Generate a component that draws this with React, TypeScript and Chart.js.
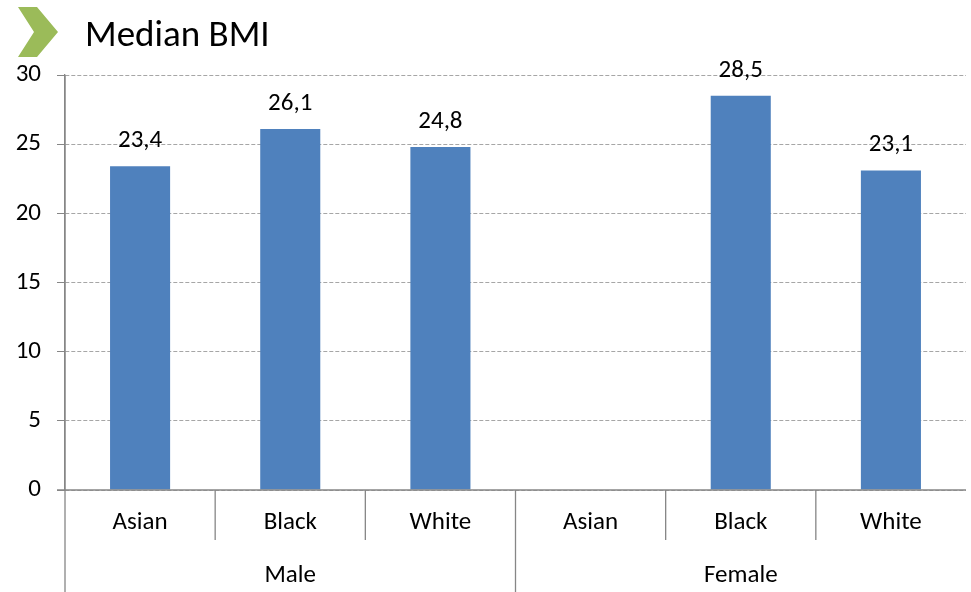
import React, { useEffect, useRef } from "react";
import { Chart, registerables } from "chart.js";

Chart.register(...registerables);

const title = "Median BMI";
const groups = ["Male", "Female"];
const subCategories = ["Asian", "Black", "White"];
const categoryLabels = ["Asian", "Black", "White", "Asian", "Black", "White"];
const values: (number | null)[] = [23.4, 26.1, 24.8, null, 28.5, 23.1];
const yMin = 0;
const yMax = 30;
const yStep = 5;

const FONT = "Carlito, Calibri, Lato, sans-serif";
const BAR = "#4F81BD";
const AXIS = "#868686";
const GRID = "#A6A6A6";

const fmt = (v: number) => v.toFixed(1).replace(".", ",");

const overlay = {
  id: "overlay",
  afterDraw(chart: any) {
    const ctx = chart.ctx as CanvasRenderingContext2D;
    const area = chart.chartArea;
    const x = chart.scales.x;
    const y = chart.scales.y;
    ctx.save();

    // chevron icon
    ctx.fillStyle = "#9BBB59";
    ctx.beginPath();
    ctx.moveTo(18, 7);
    ctx.lineTo(37, 7);
    ctx.lineTo(58, 32);
    ctx.lineTo(37, 57);
    ctx.lineTo(18, 57);
    ctx.lineTo(34, 32);
    ctx.closePath();
    ctx.fill();

    // title
    ctx.fillStyle = "#000";
    ctx.font = `37px ${FONT}`;
    ctx.textAlign = "left";
    ctx.textBaseline = "alphabetic";
    ctx.fillText(title, 85, 46);

    // x axis line
    const y0 = y.getPixelForValue(0);
    ctx.strokeStyle = AXIS;
    ctx.lineWidth = 1.3;
    ctx.setLineDash([]);
    ctx.beginPath();
    ctx.moveTo(57, y0);
    ctx.lineTo(area.right, y0);
    ctx.stroke();

    // left axis line extended to bottom
    ctx.beginPath();
    ctx.moveTo(area.left, area.top);
    ctx.lineTo(area.left, chart.height);
    ctx.stroke();

    // data labels
    ctx.font = `25px ${FONT}`;
    ctx.textAlign = "center";
    ctx.textBaseline = "alphabetic";
    ctx.fillStyle = "#000";
    const meta = chart.getDatasetMeta(0);
    values.forEach((v, i) => {
      if (v == null) return;
      const el = meta.data[i];
      ctx.fillText(fmt(v), el.x, el.y - 19);
    });

    // category labels and separators
    const n = categoryLabels.length;
    const step = (area.right - area.left) / n;
    ctx.textBaseline = "middle";
    categoryLabels.forEach((lab, i) => {
      ctx.fillText(lab, x.getPixelForValue(i), 523);
    });
    for (let i = 1; i < n; i++) {
      const sx = area.left + step * i;
      const isGroup = i % subCategories.length === 0;
      ctx.beginPath();
      ctx.moveTo(sx, y0);
      ctx.lineTo(sx, isGroup ? chart.height : 540);
      ctx.stroke();
    }
    groups.forEach((g, gi) => {
      const first = gi * subCategories.length;
      const last = first + subCategories.length - 1;
      const cx = (x.getPixelForValue(first) + x.getPixelForValue(last)) / 2;
      ctx.fillText(g, cx, 576);
    });

    ctx.restore();
  },
};

export default function App() {
  const ref = useRef<HTMLCanvasElement>(null);
  useEffect(() => {
    document.body.style.margin = "0";
    const chart = new Chart(ref.current!, {
      type: "bar",
      data: {
        labels: categoryLabels,
        datasets: [
          {
            data: values,
            backgroundColor: BAR,
            barPercentage: 0.4,
            categoryPercentage: 1,
          },
        ],
      },
      options: {
        responsive: false,
        animation: false,
        devicePixelRatio: 1,
        layout: { padding: { left: 0, right: 5, top: 75, bottom: 102 } },
        plugins: { legend: { display: false }, tooltip: { enabled: false } },
        scales: {
          x: { display: false },
          y: {
            min: yMin,
            max: yMax,
            afterFit: (s: any) => {
              s.width = 65;
            },
            ticks: {
              stepSize: yStep,
              padding: 16,
              color: "#000",
              font: { family: FONT, size: 25 },
            },
            grid: {
              color: GRID,
              tickBorderDash: [],
              tickColor: AXIS,
              tickLength: 8,
              lineWidth: 1,
            } as any,
            border: { display: true, color: AXIS, width: 1.3, dash: [4, 2] } as any,
          },
        },
      },
      plugins: [overlay],
    });
    return () => chart.destroy();
  }, []);
  return (
    <div style={{ position: "fixed", left: 0, top: 0, width: 971, height: 592 }}>
      <canvas ref={ref} width={971} height={592} />
    </div>
  );
}
